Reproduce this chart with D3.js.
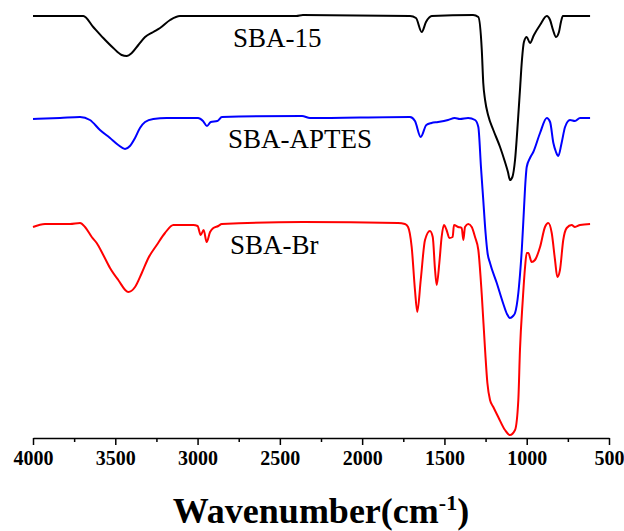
<!DOCTYPE html>
<html>
<head>
<meta charset="utf-8">
<script src="https://cdn.jsdelivr.net/npm/d3@7"></script>
<style>
  body { margin: 0; background: #fff; }
  svg { display: block; }
  .tick text { font-family: "Liberation Serif", "Times New Roman", serif; font-weight: bold; }
</style>
</head>
<body>
<div id="chart"></div>
<script>
// FTIR spectra, transmittance in a.u. (stacked, offset per sample)
// each point: [wavenumber (cm-1), transmittance a.u.]
let arrSBA15 = [
  [4000, 422], [3694, 422], [3634, 411], [3573, 400], [3512, 390], [3461, 383],
  [3431, 382], [3400, 385], [3360, 393], [3319, 401], [3269, 406], [3228, 410],
  [3167, 418], [3107, 422], [2400, 422], [2360, 423], [1709, 422], [1673, 420],
  [1638, 406], [1612, 416], [1577, 422], [1326, 423], [1294, 421], [1273, 388],
  [1264, 355], [1253, 338], [1233, 322], [1203, 308], [1162, 291], [1132, 276],
  [1114, 266], [1102, 258], [1087, 261], [1071, 278], [1053, 318], [1041, 348],
  [1029, 378], [1017, 396], [1000, 401], [980, 395], [956, 403], [919, 413],
  [878, 422], [858, 418], [840, 408], [822, 401], [804, 406], [792, 416],
  [780, 422], [700, 422], [615, 422]
];

let arrAPTES = [
  [4000, 319], [3836, 320], [3714, 321], [3654, 318], [3593, 308], [3532, 300],
  [3482, 293], [3441, 289], [3411, 292], [3380, 300], [3350, 310], [3319, 316],
  [3269, 319], [3188, 320], [2997, 320], [2967, 317], [2943, 312], [2920, 316],
  [2880, 317], [2852, 321], [2365, 322], [2317, 320], [1709, 321], [1679, 317],
  [1644, 301], [1610, 313], [1579, 315], [1539, 316], [1478, 318], [1437, 320],
  [1406, 319], [1356, 320], [1314, 318], [1294, 311], [1278, 271], [1264, 238],
  [1250, 205], [1238, 185], [1223, 175], [1182, 155], [1144, 135], [1120, 124],
  [1102, 120], [1083, 122], [1071, 125], [1051, 145], [1041, 163], [1030, 188],
  [1017, 228], [1007, 258], [1000, 271], [980, 280], [960, 286], [919, 305],
  [878, 320], [858, 316], [838, 295], [822, 286], [808, 282], [788, 295],
  [767, 311], [737, 318], [707, 317], [676, 320], [615, 320]
];

let arrSBABr = [
  [4000, 211], [3927, 214], [3775, 214], [3714, 215], [3684, 211], [3643, 201],
  [3613, 195], [3573, 183], [3532, 170], [3482, 158], [3421, 146], [3380, 151],
  [3339, 165], [3299, 180], [3248, 193], [3198, 205], [3147, 213], [3026, 213],
  [3000, 212], [2981, 203], [2963, 208], [2945, 196], [2924, 206], [2904, 210],
  [2874, 212], [2853, 214], [2359, 216], [1782, 215], [1740, 214], [1721, 211],
  [1699, 191], [1679, 148], [1665, 126], [1644, 158], [1618, 198], [1588, 207],
  [1571, 201], [1557, 168], [1547, 153], [1531, 175], [1517, 201], [1503, 213],
  [1487, 208], [1470, 200], [1450, 201], [1442, 213], [1416, 211], [1395, 210],
  [1385, 198], [1375, 211], [1355, 214], [1334, 211], [1314, 201], [1294, 188],
  [1273, 143], [1253, 88], [1239, 55], [1223, 38], [1203, 31], [1173, 21],
  [1132, 8], [1102, 3], [1071, 8], [1051, 38], [1041, 88], [1024, 138],
  [1010, 171], [1000, 185], [990, 185], [970, 176], [950, 178], [919, 191],
  [889, 211], [869, 215], [848, 205], [828, 178], [814, 161], [798, 168],
  [778, 198], [757, 210], [727, 213], [707, 211], [676, 213], [615, 214]
];

let arrSeries = [
  { name: "SBA-15", color: "#000000", data: arrSBA15, labelWn: 2785, labelT: 391 },
  { name: "SBA-APTES", color: "#0000ff", data: arrAPTES, labelWn: 2815, labelT: 290 },
  { name: "SBA-Br", color: "#ff0000", data: arrSBABr, labelWn: 2803, labelT: 184 }
];

let arrMajorTicks = [4000, 3500, 3000, 2500, 2000, 1500, 1000, 500];
let arrMinorTicks = [3750, 3250, 2750, 2250, 1750, 1250, 750];

// svg size
let intTotalWid = 624;
let intTotalHgt = 531;

let objMargin = { top: 8, right: 15, bottom: 93, left: 33 };
let intActiveWid = intTotalWid - objMargin.left - objMargin.right;
let intActiveHgt = intTotalHgt - objMargin.top - objMargin.bottom;

let svg = d3.select("#chart")
  .append("svg")
  .attr("width", intTotalWid)
  .attr("height", intTotalHgt);

let g = svg.append("g")
  .attr("transform", `translate(${objMargin.left}, ${objMargin.top})`);

// scales (x reversed as usual for IR)
let fnXScale = d3.scaleLinear()
  .domain([4000, 500])
  .range([0, intActiveWid]);

let fnYScale = d3.scaleLinear()
  .domain([0, 430])
  .range([intActiveHgt, 0]);

// minor ticks first, then major axis on top
g.append("g")
  .attr("transform", `translate(0, ${intActiveHgt})`)
  .call(d3.axisBottom(fnXScale).tickValues(arrMinorTicks).tickSize(4).tickFormat(""))
  .call(a => a.select(".domain").remove())
  .selectAll("line").attr("stroke-width", 1.5);

let gAxis = g.append("g")
  .attr("transform", `translate(0, ${intActiveHgt})`)
  .call(d3.axisBottom(fnXScale)
    .tickValues(arrMajorTicks)
    .tickFormat(d3.format("d"))
    .tickSize(7)
    .tickSizeOuter(0)
    .tickPadding(6));

gAxis.select(".domain").attr("stroke-width", 1.5);
gAxis.selectAll(".tick line").attr("stroke-width", 1.5);
gAxis.selectAll(".tick text")
  .attr("font-size", 20)
  .attr("fill", "#000");

// spectra
let fnLine = d3.line()
  .x(d => fnXScale(d[0]))
  .y(d => fnYScale(d[1]))
  .curve(d3.curveMonotoneX);

g.selectAll(".spectrum")
  .data(arrSeries)
  .enter()
  .append("path")
  .attr("class", "spectrum")
  .attr("d", d => fnLine(d.data))
  .attr("fill", "none")
  .attr("stroke", d => d.color)
  .attr("stroke-width", 2);

// sample labels
g.selectAll(".seriesLabel")
  .data(arrSeries)
  .enter()
  .append("text")
  .attr("class", "seriesLabel")
  .attr("x", d => fnXScale(d.labelWn))
  .attr("y", d => fnYScale(d.labelT))
  .attr("font-family", "'Liberation Serif', 'Times New Roman', serif")
  .attr("font-size", 27)
  .attr("fill", "#000")
  .text(d => d.name);

// axis title
let txtTitle = svg.append("text")
  .attr("x", 321)
  .attr("y", 523)
  .attr("text-anchor", "middle")
  .attr("font-family", "'Liberation Serif', 'Times New Roman', serif")
  .attr("font-weight", "bold")
  .attr("font-size", 36)
  .attr("fill", "#000");

txtTitle.append("tspan").text("Wavenumber(cm");
txtTitle.append("tspan").attr("dy", -13).attr("font-size", 22).text("-1");
txtTitle.append("tspan").attr("dy", 13).text(")");
</script>
</body>
</html>
